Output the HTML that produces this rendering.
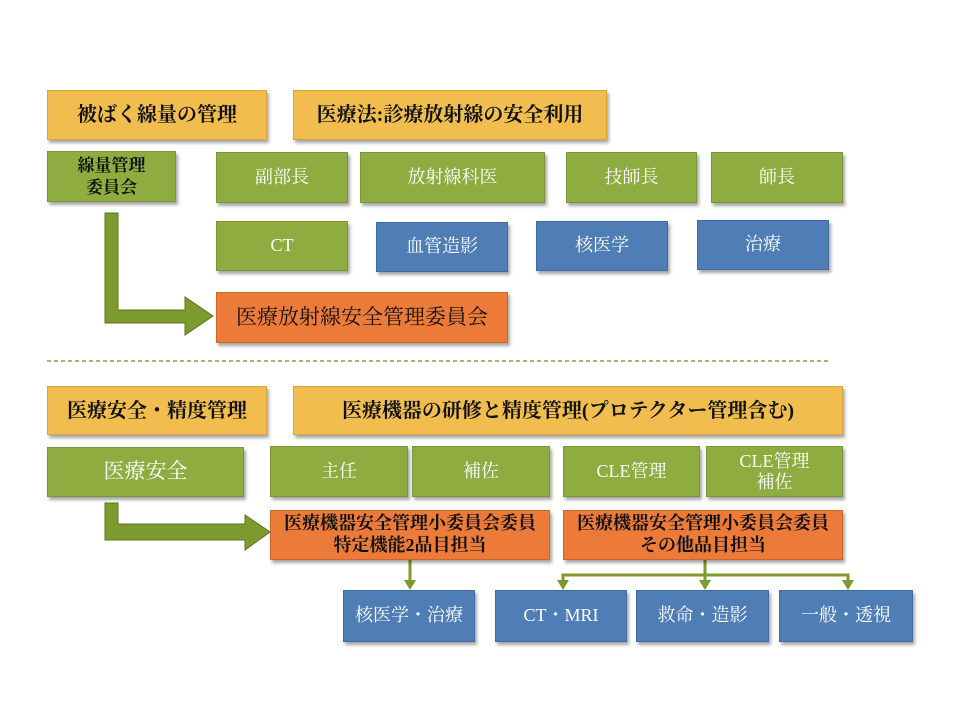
<!DOCTYPE html>
<html><head><meta charset="utf-8"><style>
body{margin:0;width:960px;height:720px;background:#fff;position:relative;overflow:hidden;font-family:"Liberation Serif","Noto Serif CJK JP","Noto Serif CJK SC",serif;}
.b{position:absolute;display:flex;align-items:center;justify-content:center;text-align:center;box-sizing:border-box;box-shadow:2px 3px 3px rgba(0,0,0,.35);line-height:1.3;}
.y{background:#f0bd4e;border:1px solid #d9a53a;color:#111;font-size:20px;font-weight:bold;}
.g{background:#8eac3f;border:1px solid #7a9535;color:#fff;font-size:18px;}
.u{background:#4f7db6;border:1px solid #416ba0;color:#fff;font-size:18px;}
.o{background:#ec7b3a;border:1px solid #d0652a;color:#111;font-size:20px;}
.k{font-weight:bold;}
</style></head><body>
<div class="b y" style="left:47px;top:90px;width:220px;height:50px">被ばく線量の管理</div>
<div class="b y" style="left:293px;top:90px;width:314px;height:50px">医療法:診療放射線の安全利用</div>
<div class="b g k" style="left:47px;top:151px;width:129px;height:51px;color:#111;font-size:17px;line-height:1.25">線量管理<br>委員会</div>
<div class="b g" style="left:216px;top:152px;width:132px;height:51px">副部長</div>
<div class="b g" style="left:360px;top:152px;width:185px;height:51px">放射線科医</div>
<div class="b g" style="left:566px;top:152px;width:131px;height:51px">技師長</div>
<div class="b g" style="left:711px;top:152px;width:132px;height:51px">師長</div>
<div class="b g" style="left:216px;top:221px;width:132px;height:50px">CT</div>
<div class="b u" style="left:376px;top:222px;width:132px;height:50px">血管造影</div>
<div class="b u" style="left:536px;top:221px;width:132px;height:50px">核医学</div>
<div class="b u" style="left:697px;top:220px;width:132px;height:50px">治療</div>
<div class="b o" style="left:216px;top:292px;width:292px;height:51px;font-size:21px">医療放射線安全管理委員会</div>

<svg style="position:absolute;left:0;top:0" width="960" height="720">
<g fill="#7d9a2e" stroke="#5d741f" stroke-width="1">
<polygon points="105,213 118,213 118,310 185,310 185,297 213,316 185,335 185,323 105,323"/>
<polygon points="105,503 118,503 118,524 245,524 245,515 270,532 245,550 245,540 105,540"/>
</g>
<line x1="47" y1="361" x2="828" y2="361" stroke="#8aa03a" stroke-width="1.5" stroke-dasharray="4,3"/>
<g stroke="#7d9a2e" stroke-width="3" fill="none">
<line x1="410" y1="560" x2="410" y2="582"/>
<line x1="705" y1="560" x2="705" y2="582"/>
<polyline points="563,582 563,575 848,575 848,582"/>
</g>
<g fill="#7d9a2e">
<polygon points="404,580 416,580 410,590"/>
<polygon points="557,580 569,580 563,590"/>
<polygon points="699,580 711,580 705,590"/>
<polygon points="842,580 854,580 848,590"/>
</g>
</svg>

<div class="b y" style="left:47px;top:386px;width:220px;height:49px">医療安全・精度管理</div>
<div class="b y" style="left:293px;top:386px;width:550px;height:49px">医療機器の研修と精度管理(プロテクター管理含む)</div>
<div class="b g" style="left:47px;top:447px;width:197px;height:50px;font-size:21px">医療安全</div>
<div class="b g" style="left:270px;top:446px;width:138px;height:51px">主任</div>
<div class="b g" style="left:412px;top:446px;width:138px;height:51px">補佐</div>
<div class="b g" style="left:563px;top:446px;width:137px;height:51px">CLE管理</div>
<div class="b g" style="left:706px;top:446px;width:137px;height:51px;line-height:1.15">CLE管理<br>補佐</div>
<div class="b o k" style="left:270px;top:510px;width:280px;height:50px;font-size:18px;line-height:1.2">医療機器安全管理小委員会委員<br>特定機能2品目担当</div>
<div class="b o k" style="left:563px;top:510px;width:280px;height:50px;font-size:18px;line-height:1.2">医療機器安全管理小委員会委員<br>その他品目担当</div>
<div class="b u" style="left:343px;top:590px;width:132px;height:52px">核医学・治療</div>
<div class="b u" style="left:495px;top:590px;width:132px;height:52px">CT・MRI</div>
<div class="b u" style="left:636px;top:590px;width:133px;height:52px">救命・造影</div>
<div class="b u" style="left:779px;top:590px;width:134px;height:52px">一般・透視</div>
</body></html>
